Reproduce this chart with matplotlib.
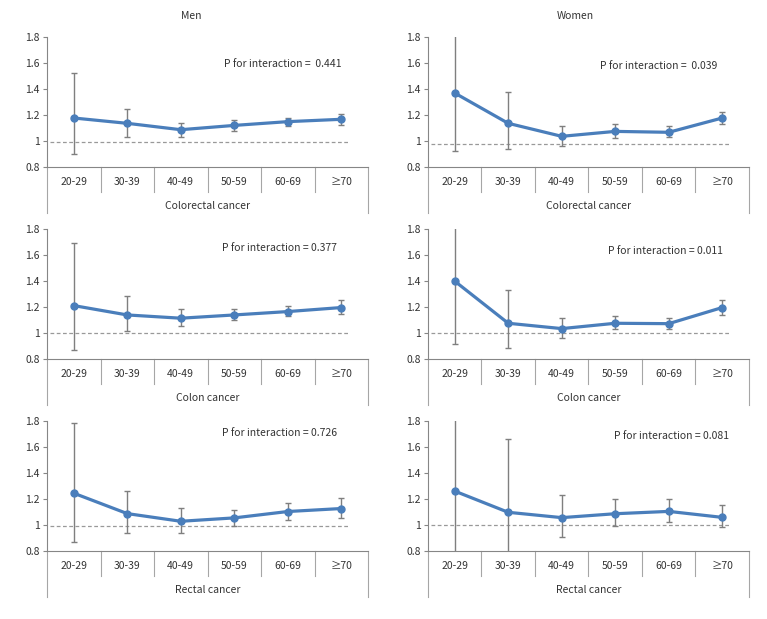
import matplotlib
matplotlib.use("Agg")
import matplotlib.pyplot as plt
import numpy as np

plt.rcParams['font.family'] = ['Noto Sans CJK KR', 'DejaVu Sans']

age_groups = ["20-29", "30-39", "40-49", "50-59", "60-69", "≥70"]

# men
men_colorectal = [1.177, 1.136, 1.087, 1.120, 1.149, 1.167]
men_colorectal_lo = [0.903, 1.031, 1.028, 1.079, 1.118, 1.126]
men_colorectal_hi = [1.523, 1.249, 1.138, 1.159, 1.179, 1.208]

men_colon = [1.211, 1.139, 1.114, 1.139, 1.165, 1.196]
men_colon_lo = [0.869, 1.019, 1.052, 1.101, 1.132, 1.144]
men_colon_hi = [1.692, 1.281, 1.183, 1.183, 1.209, 1.252]

men_rectal = [1.244, 1.087, 1.028, 1.054, 1.103, 1.126]
men_rectal_lo = [0.867, 0.938, 0.938, 0.995, 1.041, 1.056]
men_rectal_hi = [1.785, 1.259, 1.128, 1.118, 1.167, 1.208]

# women
women_colorectal = [1.369, 1.136, 1.036, 1.074, 1.067, 1.177]
women_colorectal_lo = [0.926, 0.941, 0.962, 1.026, 1.031, 1.128]
women_colorectal_hi = [1.90, 1.374, 1.113, 1.131, 1.113, 1.223]

women_colon = [1.399, 1.075, 1.034, 1.075, 1.072, 1.196]
women_colon_lo = [0.913, 0.882, 0.959, 1.029, 1.031, 1.142]
women_colon_hi = [1.90, 1.330, 1.119, 1.134, 1.119, 1.255]

women_rectal = [1.260, 1.097, 1.056, 1.086, 1.104, 1.058]
women_rectal_lo = [0.70, 0.75, 0.910, 0.989, 1.022, 0.987]
women_rectal_hi = [1.90, 1.664, 1.232, 1.199, 1.199, 1.153]

cancer_names = ["Colorectal cancer", "Colon cancer", "Rectal cancer"]
p_texts = [["P for interaction =  0.441", "P for interaction =  0.039"],
           ["P for interaction = 0.377", "P for interaction = 0.011"],
           ["P for interaction = 0.726", "P for interaction = 0.081"]]
ref_levels = [[0.99, 0.98], [1.0, 1.0], [0.995, 0.997]]

panels = [
    [(men_colorectal, men_colorectal_lo, men_colorectal_hi),
     (women_colorectal, women_colorectal_lo, women_colorectal_hi)],
    [(men_colon, men_colon_lo, men_colon_hi),
     (women_colon, women_colon_lo, women_colon_hi)],
    [(men_rectal, men_rectal_lo, men_rectal_hi),
     (women_rectal, women_rectal_lo, women_rectal_hi)],
]

# text placement (data coords)
p_pos = [[(2.81, 1.595), (2.72, 1.574)],
         [(2.77, 1.653), (2.86, 1.633)],
         [(2.77, 1.708), (2.98, 1.686)]]

blue = "#4a7ebb"
grey = "#868686"
txt = "#333333"

fig = plt.figure(figsize=(7.67, 6.19), dpi=100)

lefts = [0.0613, 0.558]
bottoms = [0.7302, 0.420, 0.110]
w, h = 0.4185, 0.21

x = np.arange(len(age_groups))

for r in range(3):
    for c in range(2):
        ax = fig.add_axes([lefts[c], bottoms[r], w, h])
        vals, lo, hi = panels[r][c]
        vals = np.array(vals)
        yerr = [vals - np.array(lo), np.array(hi) - vals]

        ax.hlines(ref_levels[r][c], -0.44, 5.12, colors="#999999",
                  linestyles=(0, (3, 2)), linewidth=0.9, zorder=1)
        ax.errorbar(x, vals, yerr=yerr, fmt="none", ecolor="#7f7f7f",
                    elinewidth=1.0, capsize=2.5, capthick=1.0, zorder=2)
        ax.plot(x, vals, color=blue, linewidth=2.3, marker="o",
                markersize=5, zorder=3)

        ax.set_xlim(-0.5, 5.5)
        ax.set_ylim(0.8, 1.8)
        ax.set_yticks([0.8, 1.0, 1.2, 1.4, 1.6, 1.8])
        ax.set_yticklabels(["0.8", "1", "1.2", "1.4", "1.6", "1.8"])
        ax.set_xticks([])
        ax.tick_params(axis="y", length=3, color=grey, labelsize=7.5,
                       labelcolor=txt, pad=2)
        for s in ["top", "right"]:
            ax.spines[s].set_visible(False)
        ax.spines["left"].set_color(grey)
        ax.spines["bottom"].set_color(grey)

        # multi-level category axis
        tr = ax.get_xaxis_transform()
        for b in np.arange(0.5, 5.0, 1.0):
            ax.plot([b, b], [0, -0.19], color="#a6a6a6", lw=0.8,
                    transform=tr, clip_on=False)
        for b in [-0.5, 5.5]:
            ax.plot([b, b], [0, -0.354], color="#a6a6a6", lw=0.8,
                    transform=tr, clip_on=False)
        for i, lab in enumerate(age_groups):
            ax.text(i, -0.115, lab, transform=tr, ha="center", va="center",
                    fontsize=7.5, color=txt)
        ax.text(2.5, -0.30, cancer_names[r], transform=tr, ha="center",
                va="center", fontsize=7.5, color=txt)

        px, py = p_pos[r][c]
        ax.text(px, py, p_texts[r][c], ha="left", va="center",
                fontsize=7.5, color=txt)

        if r == 0:
            ax.text(2.2 if c == 0 else 2.25, 1.16, ["Men", "Women"][c],
                    transform=tr, ha="center", va="center", fontsize=7.5,
                    color=txt)

fig.savefig("out.png", dpi=100)
